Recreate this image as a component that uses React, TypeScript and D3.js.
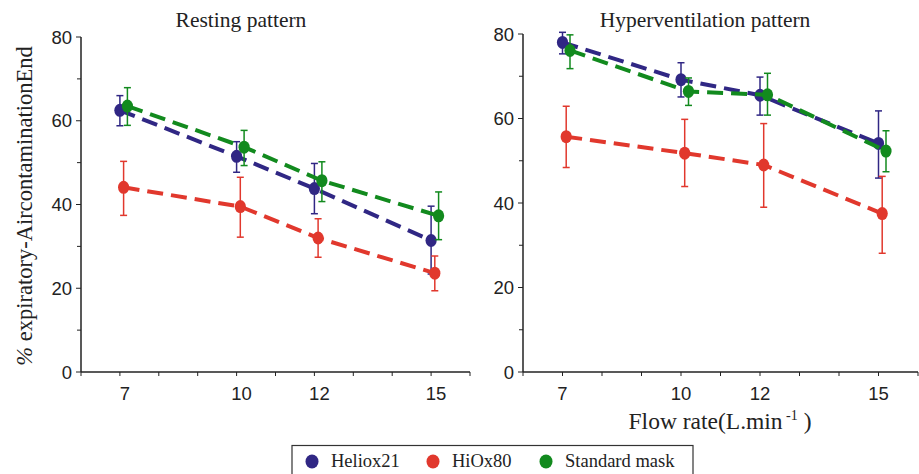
import React from "react";
import * as d3 from "d3";

const flowRates = [7, 10, 12, 15];
const seriesNames = ["Heliox21", "HiOx80", "Standard mask"];
const seriesColors = ["#302784", "#e1382d", "#128a1e"];

// Resting pattern: mean, upper, lower
const restHeliox = [62.5, 51.5, 43.8, 31.4];
const restHelioxHi = [66, 55, 49.8, 39.6];
const restHelioxLo = [58.8, 47.7, 37.8, 23.4];
const restHiOx = [44.1, 39.5, 32.0, 23.6];
const restHiOxHi = [50.3, 46.5, 36.6, 27.7];
const restHiOxLo = [37.4, 32.2, 27.4, 19.4];
const restStd = [63.5, 53.7, 45.7, 37.3];
const restStdHi = [67.9, 57.7, 50.2, 43.0];
const restStdLo = [58.9, 49.3, 40.7, 31.6];

// Hyperventilation pattern
const hypHeliox = [78, 69.2, 65.5, 54.1];
const hypHelioxHi = [80.4, 73.2, 69.8, 61.8];
const hypHelioxLo = [75.3, 65.1, 60.8, 45.9];
const hypHiOx = [55.7, 51.8, 49.0, 37.5];
const hypHiOxHi = [62.9, 59.8, 58.8, 46.3];
const hypHiOxLo = [48.4, 43.9, 39.0, 28.1];
const hypStd = [76.1, 66.4, 65.6, 52.3];
const hypStdHi = [79.8, 69.6, 70.7, 57.1];
const hypStdLo = [71.8, 63.1, 60.8, 47.4];

const yTicks = [0, 20, 40, 60, 80];
const yMinor = [10, 30, 50, 70];
const xTicks = d3.range(6, 17, 1);

type Series = { mean: number[]; hi: number[]; lo: number[] };

const restSeries: Series[] = [
  { mean: restHeliox, hi: restHelioxHi, lo: restHelioxLo },
  { mean: restHiOx, hi: restHiOxHi, lo: restHiOxLo },
  { mean: restStd, hi: restStdHi, lo: restStdLo },
];
const hypSeries: Series[] = [
  { mean: hypHeliox, hi: hypHelioxHi, lo: hypHelioxLo },
  { mean: hypHiOx, hi: hypHiOxHi, lo: hypHiOxLo },
  { mean: hypStd, hi: hypStdHi, lo: hypStdLo },
];

const sansStyle = { fontFamily: '"Liberation Sans", Arial, sans-serif' };
const serifStyle = { fontFamily: '"Liberation Serif", "DejaVu Serif", serif' };

const Panel = ({ x0, x1, yTop, yBot, title, titleX, labelShift, series }) => {
  const x = d3.scaleLinear().domain([6, 16]).range([x0, x1]);
  const y = d3.scaleLinear().domain([0, 80]).range([yBot, yTop]);
  const line = d3
    .line<number>()
    .x((d, i) => x(flowRates[i]))
    .y((d) => y(d));
  const dodge = [0, 3.7, 7.5];
  return (
    <g>
      <text x={titleX} y={27} textAnchor="middle" style={serifStyle} fontSize={21.5} fill="#222">
        {title}
      </text>
      {/* y axis */}
      <line x1={x0} x2={x0} y1={yTop} y2={yBot} stroke="#222" strokeWidth={1.5} />
      {yTicks.map((t) => (
        <g key={t}>
          <line x1={x0 - 5} x2={x0} y1={y(t)} y2={y(t)} stroke="#222" strokeWidth={1} />
          <text
            x={x0 - 9}
            y={y(t)}
            dy="0.36em"
            textAnchor="end"
            style={sansStyle}
            fontSize={18.5}
            fill="#222"
          >
            {t}
          </text>
        </g>
      ))}
      {yMinor.map((t) => (
        <line key={t} x1={x0 - 4} x2={x0} y1={y(t)} y2={y(t)} stroke="#222" strokeWidth={1} />
      ))}
      {/* x axis */}
      <line x1={x0} x2={x1} y1={yBot} y2={yBot} stroke="#222" strokeWidth={1.5} />
      {xTicks.map((t) => (
        <line key={t} x1={x(t)} x2={x(t)} y1={yBot} y2={yBot + 4} stroke="#222" strokeWidth={1} />
      ))}
      {flowRates.map((t) => (
        <text
          key={t}
          x={x(t) + labelShift}
          y={yBot + 28}
          textAnchor="middle"
          style={sansStyle}
          fontSize={18.5}
          fill="#222"
        >
          {t}
        </text>
      ))}
      {series.map((s, si) => (
        <g key={si} transform={`translate(${dodge[si]},0)`}>
          <path
            d={line(s.mean) || ""}
            fill="none"
            stroke={seriesColors[si]}
            strokeWidth={4}
            strokeDasharray="16,8"
          />
          {s.mean.map((m, i) => {
            const cx = x(flowRates[i]);
            return (
              <g key={i}>
                <line x1={cx} x2={cx} y1={y(s.hi[i])} y2={y(s.lo[i])} stroke={seriesColors[si]} strokeWidth={1.5} />
                <line x1={cx - 3.5} x2={cx + 3.5} y1={y(s.hi[i])} y2={y(s.hi[i])} stroke={seriesColors[si]} strokeWidth={1.5} />
                <line x1={cx - 3.5} x2={cx + 3.5} y1={y(s.lo[i])} y2={y(s.lo[i])} stroke={seriesColors[si]} strokeWidth={1.5} />
                <ellipse cx={cx} cy={y(m)} rx={5.6} ry={6.5} fill={seriesColors[si]} />
              </g>
            );
          })}
        </g>
      ))}
    </g>
  );
};

export default function App() {
  const legendX = [312, 433, 546];
  return (
    <svg
      width={919}
      height={474}
      style={{ position: "absolute", left: 0, top: 0, background: "#fff" }}
    >
      <Panel
        x0={81}
        x1={470}
        yTop={37}
        yBot={372}
        title="Resting pattern"
        titleX={241}
        labelShift={5}
        series={restSeries}
      />
      <Panel
        x0={523}
        x1={918}
        yTop={34}
        yBot={372}
        title="Hyperventilation pattern"
        titleX={705}
        labelShift={0}
        series={hypSeries}
      />
      <text
        transform="translate(32,206) rotate(-90)"
        textAnchor="middle"
        style={serifStyle}
        fontSize={22.5}
        fill="#222"
      >
        <tspan fontStyle="italic">%</tspan> expiratory-AircontaminationEnd
      </text>
      <text x={720} y={429} textAnchor="middle" style={serifStyle} fontSize={23.5} fill="#222">
        Flow rate(L.min
        <tspan dy={-9} fontSize={14}> -1</tspan>
        <tspan dy={9}> )</tspan>
      </text>
      <rect x={292} y={445.5} width={401} height={40} fill="none" stroke="#333" strokeWidth={1.2} />
      {seriesNames.map((n, i) => (
        <g key={n}>
          <ellipse cx={legendX[i]} cy={461.5} rx={6.5} ry={7} fill={seriesColors[i]} />
          <text x={legendX[i] + 19} y={467} style={serifStyle} fontSize={18.5} fill="#222">
            {n}
          </text>
        </g>
      ))}
    </svg>
  );
}
